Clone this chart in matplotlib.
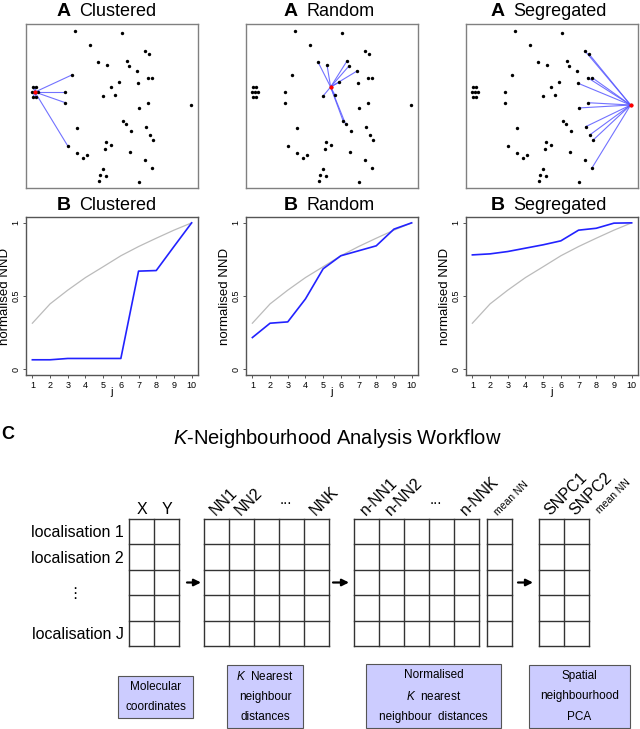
import matplotlib.pyplot as plt
from matplotlib.patches import Rectangle

plt.rcParams['font.family'] = ['Liberation Sans', 'DejaVu Sans']
plt.rcParams['mathtext.fontset'] = 'custom'
plt.rcParams['mathtext.rm'] = 'Liberation Sans'
plt.rcParams['mathtext.it'] = 'Liberation Sans:italic'

W, H = 640, 729

pattern_names = ["Clustered", "Random", "Segregated"]

# localisations (same set in every A panel), 0-100 units
loc_x = [28.5, 55.8, 37.4, 69.2, 71.5, 41.9, 47.1, 58.7, 59.7, 64.5,
         26.6, 70.7, 73.3, 54.3, 65.3, 49.2, 4.1, 5.6, 3.3, 5.2,
         6.8, 4.1, 5.6, 22.9, 45.0, 51.6, 22.9, 71.1, 95.7, 65.5,
         56.4, 57.9, 29.5, 60.9, 69.6, 71.9, 73.8, 46.5, 49.2, 45.7,
         24.2, 29.7, 32.9, 35.7, 60.7, 69.2, 73.1, 44.6, 42.8, 46.3,
         42.6, 65.7]
loc_y = [95.9, 94.7, 87.2, 83.5, 81.7, 76.8, 75.0, 77.4, 74.2, 71.3,
         68.9, 67.3, 67.3, 64.6, 63.8, 61.6, 61.6, 61.6, 58.5, 58.5,
         58.5, 55.3, 55.3, 58.5, 56.3, 56.9, 52.0, 52.0, 50.6, 48.8,
         41.1, 39.0, 36.4, 35.0, 37.4, 32.3, 29.1, 28.0, 26.2, 23.8,
         25.8, 21.3, 18.5, 19.9, 22.2, 16.9, 12.0, 11.6, 7.9, 7.3,
         4.5, 3.7]

focal_index = [19, 15, 28]
neighbour_index = [
    [16, 17, 18, 20, 21, 22, 23, 26, 10, 40],
    [5, 6, 7, 8, 9, 13, 24, 25, 30, 31],
    [3, 4, 11, 12, 14, 27, 29, 34, 35, 36, 46],
]

j = [1, 2, 3, 4, 5, 6, 7, 8, 9, 10]
expected_nnd = [0.314, 0.446, 0.54, 0.626, 0.70, 0.775, 0.838, 0.895, 0.95, 1.0]
clustered_nnd = [0.064, 0.064, 0.073, 0.073, 0.073, 0.073, 0.67, 0.674, 0.838, 1.0]
random_nnd = [0.216, 0.314, 0.323, 0.48, 0.686, 0.775, 0.809, 0.843, 0.957, 1.0]
segregated_nnd = [0.781, 0.788, 0.804, 0.827, 0.85, 0.877, 0.95, 0.963, 0.998, 1.0]
observed_nnd = [clustered_nnd, random_nnd, segregated_nnd]

row_labels = ["localisation 1", "localisation 2", "", "\u22ee", "localisation J"]
xy_headers = ["X", "Y"]
nn_headers = ["NN1", "NN2", "", "...", "NNK"]
nnn_headers = ["n-NN1", "n-NN2", "", "...", "n-NNK"]
mean_headers = ["mean NN"]
pca_headers = ["SNPC1", "SNPC2", "mean NN"]
box_texts = ["Molecular\ncoordinates",
             "$K$  Nearest\nneighbour\ndistances",
             "Normalised\n$K$  nearest\nneighbour  distances",
             "Spatial\nneighbourhood\nPCA"]


def frac(x0, y0, x1, y1):
    return [x0 / W, 1 - y1 / H, (x1 - x0) / W, (y1 - y0) / H]


fig = plt.figure(figsize=(6.4, 7.29), dpi=100)

box_left = [26, 246, 466]
title_left = [79, 306, 513]

for i, name in enumerate(pattern_names):
    l = box_left[i]
    # A: localisation maps
    ax = fig.add_axes(frac(l, 24, l + 172, 188))
    f = focal_index[i]
    for n in neighbour_index[i]:
        ax.plot([loc_x[f], loc_x[n]], [loc_y[f], loc_y[n]], color=(0.35, 0.35, 1.0),
                lw=0.8, alpha=0.85, zorder=1)
    ax.scatter(loc_x, loc_y, s=6, color='black', lw=0, zorder=2)
    ax.scatter([loc_x[f]], [loc_y[f]], s=9, color='red', lw=0, zorder=3)
    ax.set_xlim(0, 100)
    ax.set_ylim(0, 100)
    ax.set_xticks([])
    ax.set_yticks([])
    for sp in ax.spines.values():
        sp.set_color('#808080')
        sp.set_linewidth(1.0)

    # B: normalised NND curves
    bx = fig.add_axes(frac(l, 217, l + 172, 375))
    bx.plot(j, expected_nnd, color='#bbbbbb', lw=0.9)
    bx.plot(j, observed_nnd[i], color='#2222ff', lw=1.2)
    bx.set_xlim(0.64, 10.36)
    bx.set_ylim(-0.04, 1.04)
    bx.set_xticks(j)
    bx.set_xticklabels([str(v) for v in j], fontsize=6.5)
    bx.set_yticks([0, 0.5, 1])
    bx.set_yticklabels(["0", "0.5", "1"], fontsize=6.5, rotation=90, va='center')
    bx.tick_params(length=2.5, width=0.7, color='#555555', pad=1.5)
    bx.set_xlabel("j", fontsize=8, labelpad=-1.5)
    bx.set_ylabel("normalised NND", fontsize=9.5, labelpad=0)
    for sp in bx.spines.values():
        sp.set_color('#555555')
        sp.set_linewidth(1.0)

    for letter, yc in (("A", 12), ("B", 205)):
        fig.text(title_left[i] / W, 1 - yc / H, name, fontsize=13, ha='left', va='center')
        fig.text((title_left[i] - 8) / W, 1 - yc / H, letter, fontsize=14,
                 fontweight='bold', ha='right', va='center')

# C: workflow diagram in pixel coordinates
axc = fig.add_axes([0, 0, 1, 1])
axc.set_xlim(0, W)
axc.set_ylim(H, 0)
axc.axis('off')

axc.text(8, 434, "C", fontsize=13, fontweight='bold', ha='center', va='center')
axc.text(337, 438, "$K$-Neighbourhood Analysis Workflow", fontsize=14.5,
         ha='center', va='center')

top, rh, cw = 519, 25.4, 25
nrows = len(row_labels)
grid_color = '#333333'


def draw_grid(left, headers, size=11.5):
    ncols = len(headers)
    bottom = top + nrows * rh
    for c in range(ncols + 1):
        axc.plot([left + c * cw] * 2, [top, bottom], color=grid_color, lw=1.0)
    for r in range(nrows + 1):
        axc.plot([left, left + ncols * cw], [top + r * rh] * 2, color=grid_color, lw=1.0)
    for c, lab in enumerate(headers):
        xc = left + (c + 0.5) * cw
        if lab == "...":
            axc.text(xc - 6, top - 19, "...", fontsize=11, ha='center', va='center')
        elif lab:
            axc.text(xc - 1, top - 3, lab, fontsize=size, rotation=45,
                     rotation_mode='anchor', ha='left', va='baseline')


# X / Y grid with horizontal headers
draw_grid(129, ["", ""])
for c, lab in enumerate(xy_headers):
    axc.text(129 + (c + 0.5) * cw, 514, lab, fontsize=11.5, ha='center', va='baseline')

draw_grid(204, nn_headers)
draw_grid(354, nnn_headers)
draw_grid(487, mean_headers, size=7.5)
draw_grid(539, pca_headers[:2])
axc.text(539 + 2.5 * cw - 2, top - 5, pca_headers[2], fontsize=7.5, rotation=45,
         rotation_mode='anchor', ha='left', va='baseline')

for r, lab in enumerate(row_labels):
    if lab == "\u22ee":
        axc.text(75, top + r * rh - 2, lab, fontsize=11, ha='center', va='center',
                 family=['DejaVu Sans'])
    elif lab:
        axc.text(124, top + (r + 0.5) * rh + 1, lab, fontsize=11.5, ha='right', va='center')

arrow_y = top + 2.5 * rh
for x0, x1 in ((187, 201), (333, 349), (518, 533)):
    axc.annotate("", xy=(x1, arrow_y), xytext=(x0, arrow_y),
                 arrowprops=dict(arrowstyle='-|>', color='black', lw=1.6, mutation_scale=10,
                                 shrinkA=0, shrinkB=0))

boxes = [(118, 676, 193, 718), (227, 665, 303, 728), (366, 664, 501, 728), (529, 665, 630, 728)]
for (x0, y0, x1, y1), txt in zip(boxes, box_texts):
    axc.add_patch(Rectangle((x0, y0), x1 - x0, y1 - y0, facecolor='#ccccff',
                            edgecolor='#555555', lw=0.8))
    axc.text((x0 + x1) / 2, (y0 + y1) / 2, txt, fontsize=8.5, ha='center', va='center',
             linespacing=1.9)

fig.savefig("out.png", dpi=100)
